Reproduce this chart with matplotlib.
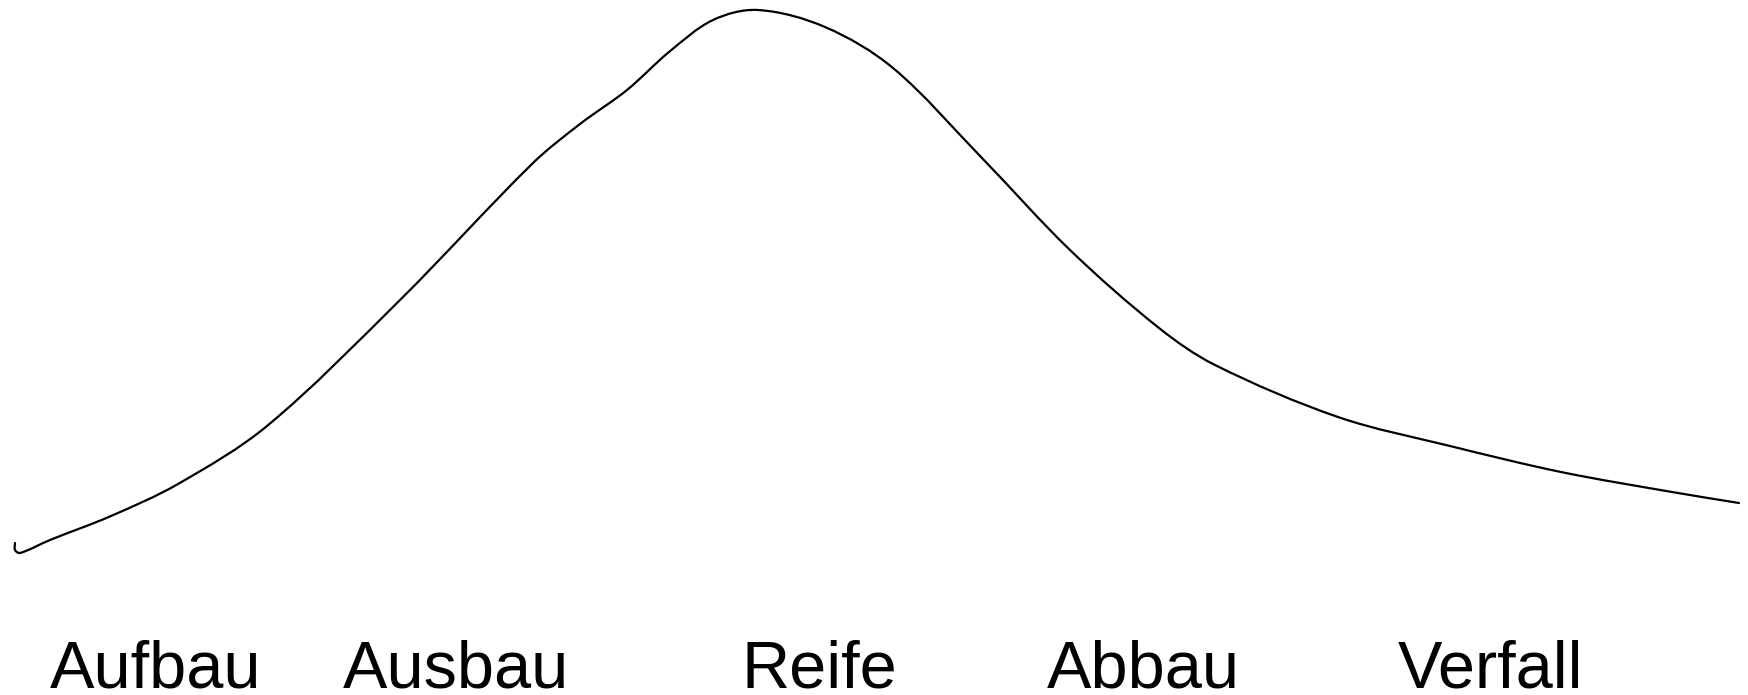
import matplotlib
matplotlib.use('Agg')
import matplotlib.pyplot as plt
import numpy as np
from matplotlib.path import Path
from matplotlib.patches import PathPatch

# life cycle curve (x to the right, y downwards)
curve_x = [15, 15, 20, 50, 111, 178, 267, 400, 533, 580, 627, 669, 713, 758,
           825, 893, 981, 1070, 1159, 1215, 1338, 1450, 1561, 1672, 1739]
curve_y = [543, 550, 553, 540, 516, 484, 426, 300, 163, 124, 90, 52, 20, 10,
           27, 68, 157, 250, 328, 365, 417, 446, 472, 492, 503]

phases = ['Aufbau', 'Ausbau', 'Reife', 'Abbau', 'Verfall']
phase_pos = [156, 456, 819, 1143, 1490]


def smooth_path(xs, ys):
    # cubic hermite through the points (chord length spacing), as beziers
    p = np.column_stack([xs, ys]).astype(float)
    d = np.linalg.norm(np.diff(p, axis=0), axis=1)
    t = np.concatenate([[0], np.cumsum(d)])
    m = np.zeros_like(p)
    m[1:-1] = (p[2:] - p[:-2]) / (t[2:] - t[:-2])[:, None]
    m[0] = (p[1] - p[0]) / d[0]
    m[-1] = (p[-1] - p[-2]) / d[-1]
    verts = [p[0]]
    codes = [Path.MOVETO]
    for i in range(len(p) - 1):
        h = d[i]
        verts += [p[i] + m[i] * h / 3, p[i + 1] - m[i + 1] * h / 3, p[i + 1]]
        codes += [Path.CURVE4] * 3
    return Path(verts, codes)


fig = plt.figure(figsize=(17.48, 6.95), dpi=100)
ax = fig.add_axes([0, 0, 1, 1])
ax.add_patch(PathPatch(smooth_path(curve_x, curve_y), fill=False,
                       edgecolor='black', lw=1.6, capstyle='round'))

for name, xp in zip(phases, phase_pos):
    ax.text(xp, 687, name, ha='center', va='baseline', fontsize=48,
            family=['Liberation Sans', 'DejaVu Sans'], color='black')

ax.set_xlim(0, 1748)
ax.set_ylim(695, 0)
ax.axis('off')
fig.savefig('out.png', dpi=100, facecolor='white')
